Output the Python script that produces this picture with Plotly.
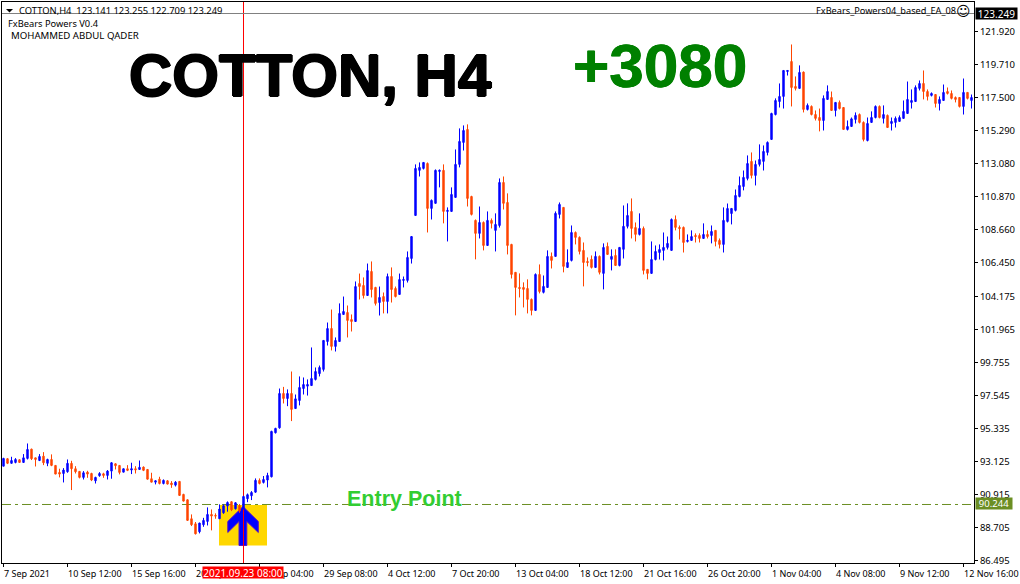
import plotly.graph_objects as go

# OHLC (243 H4 bars, index 0 = 7 Sep 2021)
opens = [92.81,93.31,93.00,93.06,93.24,93.06,93.33,93.95,93.37,93.19,93.48,93.00,93.26,92.86,92.39,92.32,92.44,93.00,92.64,92.46,
92.06,92.41,92.32,91.83,92.17,92.30,92.19,92.48,92.97,92.86,92.41,92.64,92.55,92.64,92.59,92.75,92.59,91.97,91.74,91.94,
91.65,91.83,91.68,91.54,91.79,90.92,90.56,89.29,88.95,88.42,88.89,89.11,89.58,89.51,89.29,89.69,90.14,90.43,89.96,90.18,
89.96,90.63,90.83,91.07,91.86,91.72,91.88,92.10,95.05,95.38,97.68,97.34,97.68,96.67,97.21,98.01,98.17,98.21,98.62,99.01,
99.29,101.16,102.03,100.83,101.16,102.97,103.10,102.63,102.50,105.04,104.91,104.24,105.85,104.78,103.77,104.17,103.84,105.51,104.71,104.31,
105.25,105.25,106.72,109.60,112.62,112.75,113.08,110.07,110.41,112.55,112.62,109.87,109.87,110.81,113.02,114.49,115.36,110.87,109.27,108.40,
109.13,107.59,109.27,108.60,108.93,111.81,110.47,107.66,105.79,104.78,104.78,104.71,103.98,103.24,105.65,104.45,104.78,106.86,106.86,109.67,
110.14,106.12,106.59,108.46,108.13,107.26,106.52,106.66,106.12,106.86,105.72,107.53,106.66,106.92,106.25,107.33,108.87,109.87,108.79,108.33,
108.73,105.99,105.72,106.65,107.12,107.26,107.46,107.26,109.33,108.80,108.80,107.86,107.93,108.26,108.26,108.06,108.33,108.26,108.60,107.93,
107.66,109.20,109.73,109.94,110.87,111.54,112.08,113.22,112.28,113.02,113.22,113.82,114.69,116.36,117.23,117.57,119.24,119.91,118.24,118.11,
119.20,116.70,116.90,116.36,116.16,115.96,117.37,117.50,116.63,117.17,116.83,115.36,115.56,116.03,116.36,115.83,114.62,115.83,116.16,116.90,
116.10,116.30,115.76,115.83,115.90,116.10,116.43,117.17,117.23,118.11,118.44,117.90,117.64,117.70,117.10,117.30,117.90,117.77,117.50,117.50,
116.90,117.84,117.30]
highs = [93.37,93.35,93.44,93.35,93.26,93.62,94.33,93.98,93.37,93.62,93.75,93.31,93.60,92.86,92.64,92.68,93.26,93.17,92.81,92.48,
92.48,92.50,92.37,92.10,92.41,92.37,92.55,93.08,93.00,92.86,92.64,92.88,93.04,92.81,93.19,92.79,92.59,92.37,91.86,92.10,
91.92,91.88,91.81,91.81,91.79,90.96,90.58,89.58,89.07,89.02,89.35,90.05,89.91,89.65,90.25,90.25,90.45,90.45,90.40,90.27,
90.83,90.98,91.14,91.99,91.99,92.15,92.37,95.18,95.38,98.01,98.12,97.95,99.15,97.61,98.82,98.75,98.62,100.76,99.42,99.55,
101.23,102.43,103.30,101.43,103.71,104.17,103.57,102.97,105.18,105.71,105.45,106.38,106.52,104.82,104.84,104.44,105.71,106.12,104.84,105.71,
105.51,107.19,108.19,113.02,113.15,113.15,113.15,110.67,112.68,112.68,113.02,110.14,111.48,114.02,115.43,115.63,115.70,110.92,109.33,110.20,
109.20,109.87,109.40,109.74,112.08,112.21,111.08,107.70,105.79,105.72,105.12,105.32,104.04,105.72,106.32,105.58,107.26,107.12,109.87,110.47,
110.14,107.33,108.93,108.53,108.20,107.79,106.79,106.92,107.19,106.92,107.73,107.79,107.33,107.33,107.46,110.27,110.41,110.74,109.13,109.74,
108.86,105.99,107.86,107.59,107.66,108.46,108.19,109.40,109.60,108.93,108.86,108.33,108.60,108.40,108.40,109.07,108.60,108.93,108.60,108.06,
110.14,110.40,110.07,111.34,112.21,112.61,113.62,113.82,113.28,114.36,114.29,114.56,116.48,117.44,118.44,119.31,119.31,121.05,118.91,119.65,
119.24,117.10,116.97,116.63,116.76,117.64,118.31,117.90,117.17,117.30,116.83,115.96,116.16,116.50,116.43,115.90,116.16,116.57,116.97,116.97,
116.97,116.36,116.16,116.23,116.30,117.30,118.57,118.04,118.31,118.64,119.31,118.04,117.84,117.70,117.57,118.37,118.17,117.97,117.57,117.50,
118.77,117.84,117.70]
lows = [92.81,92.95,93.00,93.00,93.06,93.06,93.26,93.22,92.79,93.15,92.88,92.81,92.81,92.28,92.06,91.72,92.37,91.21,92.32,91.99,
91.92,92.03,91.81,91.65,92.10,92.03,91.92,91.97,92.59,92.26,92.41,92.48,92.28,92.32,92.59,92.48,91.92,91.74,91.59,91.59,
91.59,91.59,91.36,91.45,90.85,90.45,89.15,88.80,88.24,88.31,88.75,88.84,88.51,89.29,89.29,89.62,89.76,89.80,89.91,89.69,
89.91,90.40,90.54,91.03,91.59,91.65,91.39,92.06,95.00,95.32,97.01,96.83,95.83,96.67,96.88,97.61,97.54,98.21,98.55,98.82,
99.15,100.89,100.56,100.49,101.16,102.97,101.43,101.83,102.50,103.97,104.04,104.24,104.11,103.57,102.90,103.04,103.04,103.77,104.11,104.31,
104.78,105.11,106.38,109.60,112.21,112.68,108.46,109.33,110.41,111.48,109.07,107.86,109.87,110.81,112.82,113.95,110.20,109.60,106.66,108.06,
107.26,107.59,108.73,107.19,108.79,110.00,106.99,105.38,102.91,104.11,103.44,103.04,102.91,103.24,104.38,104.38,104.78,106.05,106.86,109.40,
105.79,106.12,106.52,107.66,106.99,104.85,106.19,106.05,106.12,105.65,104.65,106.99,105.92,106.25,106.19,106.72,108.73,108.06,107.86,108.26,
105.65,105.32,105.72,106.59,106.65,106.59,107.32,107.26,108.60,107.99,107.12,107.79,107.93,107.79,107.79,108.06,108.06,107.73,107.53,107.39,
107.12,109.13,109.00,109.87,110.81,111.28,111.95,112.08,111.61,112.88,112.61,113.62,114.69,116.30,116.83,116.76,118.97,116.90,117.97,118.11,
116.50,116.63,116.30,115.96,115.23,115.29,117.37,116.63,116.23,116.70,115.36,115.29,115.56,115.76,115.76,114.56,114.56,115.83,116.10,116.10,
115.76,115.49,115.29,115.49,115.90,116.10,116.43,116.76,117.23,117.97,117.37,117.30,117.57,116.83,116.63,117.30,117.70,117.37,117.17,116.83,
116.36,117.37,116.76]
closes = [93.33,93.00,93.19,93.26,93.06,93.37,93.93,93.31,93.26,93.46,93.04,93.26,92.86,92.28,92.28,92.55,93.00,92.64,92.44,92.06,
92.37,92.28,91.88,92.06,92.32,92.19,92.48,93.04,92.84,92.39,92.64,92.53,92.64,92.57,92.73,92.53,91.94,91.74,91.83,91.65,
91.86,91.61,91.57,91.74,90.85,90.47,89.18,88.89,88.28,89.00,89.18,89.58,89.47,89.47,89.94,90.16,90.38,89.89,90.36,89.80,
90.78,90.90,91.05,91.86,91.65,91.92,92.19,95.14,95.34,97.68,97.34,97.68,96.61,97.32,98.08,98.28,98.28,98.68,99.15,99.42,
101.23,102.03,100.83,101.23,103.04,103.17,102.57,102.50,104.84,104.84,104.24,105.91,104.64,103.71,104.11,103.84,105.51,104.64,104.17,105.31,
105.31,106.79,108.19,112.75,112.82,113.15,110.07,110.61,112.62,112.62,109.87,109.94,111.01,113.02,114.56,115.29,110.74,109.67,108.40,109.13,
107.59,109.27,109.07,109.00,111.81,110.41,107.59,105.65,104.78,104.71,104.65,103.98,103.24,105.65,104.51,104.85,106.86,106.59,109.74,110.34,
106.19,106.45,108.46,108.13,107.19,106.45,106.45,106.12,106.86,105.79,107.46,106.99,106.86,106.25,107.46,108.87,109.60,108.73,108.33,108.73,
105.92,105.72,106.65,107.19,107.32,107.46,107.73,109.33,108.80,108.73,107.79,107.93,108.19,108.19,108.06,108.33,108.19,108.53,107.86,107.66,
109.27,110.07,110.07,110.94,111.61,112.15,113.08,112.28,113.02,113.35,113.89,114.49,116.43,117.30,117.57,119.31,119.31,118.17,118.11,119.18,
116.70,116.97,116.36,116.10,115.96,117.44,117.90,116.63,117.17,116.76,115.36,115.56,116.07,116.30,115.83,114.69,115.76,116.16,116.90,116.16,
116.36,115.49,115.90,116.10,116.16,116.57,117.37,117.30,118.17,118.44,117.90,117.57,117.77,117.10,117.37,117.84,117.77,117.44,117.37,116.90,
117.84,117.44,117.50]

bar_index = list(range(len(opens)))
price_tick_labels = ["121.920","119.710","117.500","115.290","113.080","110.870","108.660","106.450",
                     "104.175","101.965","99.755","97.545","95.335","93.125","90.915","88.705","86.495"]
time_tick_bars = list(range(0, 241, 16))
time_tick_labels = ["7 Sep 2021","10 Sep 12:00","15 Sep 16:00","20 Sep 20:00","24 Sep 04:00","29 Sep 08:00",
                    "4 Oct 12:00","7 Oct 20:00","13 Oct 04:00","18 Oct 12:00","21 Oct 16:00","26 Oct 20:00",
                    "1 Nov 04:00","4 Nov 08:00","9 Nov 12:00","12 Nov 16:00"]
entry_price = 90.244
bid_price = 123.249
signal_bar = 60

UI_FONT = "Noto Sans"
L, R, T, B = 2, 974, 2, 563
W, H = 1020, 584
def px(x): return (x - L) / (R - L)
def py(y): return (B - y) / (B - T)
def path(points):
    return "M" + " L".join(f"{px(a):.5f},{py(b):.5f}" for a, b in points) + " Z"

fig = go.Figure(go.Candlestick(
    x=bar_index, open=opens, high=highs, low=lows, close=closes,
    increasing=dict(line=dict(color="#0000FF", width=1), fillcolor="#0000FF"),
    decreasing=dict(line=dict(color="#FF4500", width=1), fillcolor="#FF4500"),
    whiskerwidth=0, hoverinfo="skip", showlegend=False))

shapes = [
    dict(type="rect", xref="paper", yref="paper", x0=px(219), x1=px(267), y0=py(545.5), y1=py(505),
         fillcolor="#FFD700", line=dict(width=0), layer="below"),
    dict(type="path", xref="paper", yref="paper", layer="below",
         path=path([(243, 506.5), (258.3, 521.5), (258.3, 532.5), (246.8, 521.5), (246.8, 545.5),
                    (239, 545.5), (239, 521.5), (227.8, 532.5), (227.8, 521.5)]),
         fillcolor="#0000FF", line=dict(color="#5A10C8", width=1)),
    dict(type="line", xref="x", yref="paper", x0=signal_bar, x1=signal_bar, y0=0, y1=1,
         line=dict(color="#FF0000", width=1), layer="below"),
    dict(type="line", xref="paper", yref="paper", x0=0, x1=1, y0=py(13.5), y1=py(13.5),
         line=dict(color="#808080", width=1), layer="below"),
    dict(type="line", xref="paper", yref="y", x0=0, x1=1, y0=entry_price, y1=entry_price,
         line=dict(color="#6B8E23", width=1, dash="9px,4px,3px,4px"), layer="below"),
    dict(type="path", xref="paper", yref="paper", path=path([(6, 9), (13, 9), (9.5, 12.5)]),
         fillcolor="#000000", line=dict(width=0)),
]

def text(s, x, y, size, color="#000000", anchor="left", bold=False, family=UI_FONT, shadow=None, **kw):
    font = dict(family=family, size=size, color=color)
    if shadow:
        font["shadow"] = shadow
    return dict(text=f"<b>{s}</b>" if bold else s, xref="paper", yref="paper", x=px(x), y=py(y),
                xanchor=anchor, yanchor="middle", showarrow=False, font=font, borderpad=0, **kw)

annotations = [
    text("COTTON,H4&nbsp;&nbsp;123.141 123.255 122.709 123.249", 18, 10, 9.4),
    text("FxBears Powers V0.4", 7, 23, 9.3),
    text("MOHAMMED ABDUL QADER", 10, 35, 9.65),
    text("FxBears_Powers04_based_EA_08", 957, 11, 9.2, anchor="right"),
    text("☺", 963, 11, 14, anchor="center", family="DejaVu Sans"),
    text("COTTON, H4", 128, 75, 60, bold=True, family="Liberation Sans",
         shadow="1px 0 0 #000,-1px 0 0 #000,0 1px 0 #000,0 -1px 0 #000"),
    text("+3080", 572, 65, 62, color="#008000", bold=True, family="Liberation Sans",
         shadow="0.5px 0 0 #008000,-0.5px 0 0 #008000"),
    text("Entry Point", 346, 499, 21.5, color="#32CD32", bold=True, family="Liberation Sans"),
]
for bar, label in zip(time_tick_bars, time_tick_labels):
    annotations.append(dict(text=label, xref="x", yref="paper", x=bar, y=0, yshift=-10, xshift=-1,
                            xanchor="left", yanchor="middle", showarrow=False, borderpad=0,
                            font=dict(family=UI_FONT, size=9, color="#000000")))
annotations += [
    text("2021.09.23 08:00", 243, 572.5, 10, color="#FFFFFF", anchor="center", bgcolor="#FF0000", width=80, height=11),
    text(f"{entry_price:.3f}", 994, 503.5, 9.5, color="#FFFFFF", anchor="center", bgcolor="#6B8E23", width=36, height=11),
    text(f"{bid_price:.3f}", 996.5, 13.3, 10, color="#FFFFFF", anchor="center", bgcolor="#000000", width=41, height=11),
]

fig.update_layout(
    width=W, height=H, autosize=False, paper_bgcolor="#FFFFFF", plot_bgcolor="#FFFFFF",
    margin=dict(l=L, r=W - R, t=T, b=H - B, pad=0), boxgap=0.5,
    shapes=shapes, annotations=annotations, showlegend=False,
    xaxis=dict(range=[-0.375, 242.625], rangeslider=dict(visible=False), showgrid=False, zeroline=False,
               tickmode="array", tickvals=time_tick_bars, ticktext=[""] * len(time_tick_bars),
               ticks="outside", ticklen=3, tickwidth=1, tickcolor="#000000",
               showline=True, linecolor="#000000", linewidth=1, mirror=True),
    yaxis=dict(range=[86.326, 123.895], side="right", showgrid=False, zeroline=False,
               tickmode="array", tickvals=[float(t) for t in price_tick_labels], ticktext=price_tick_labels,
               ticks="outside", ticklen=3, tickwidth=1, tickcolor="#000000",
               tickfont=dict(family=UI_FONT, size=9.5, color="#000000"),
               showline=True, linecolor="#000000", linewidth=1, mirror=True),
)

fig.write_html("out.html", config=dict(displayModeBar=False),
               post_script="document.body.style.margin='0';document.body.style.overflow='hidden';")
